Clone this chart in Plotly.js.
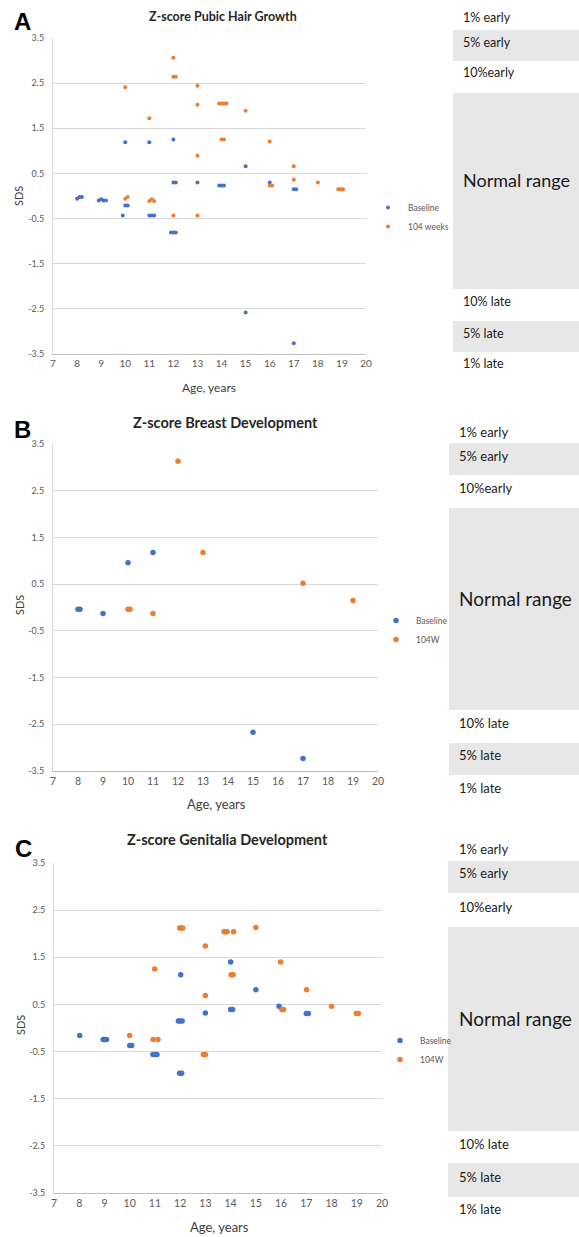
<!DOCTYPE html>
<html>
<head>
<meta charset="utf-8">
<script src="https://cdn.plot.ly/plotly-3.0.1.min.js"></script>
<style>html,body{margin:0;padding:0;background:#fff;}#chart{width:579px;height:1237px;}</style>
</head>
<body>
<div id="chart"></div>
<script>
// ---------------- DATA ----------------
const panelLetters = ['A', 'B', 'C'];
const panelTitles = ['Z-score Pubic Hair Growth', 'Z-score Breast Development', 'Z-score Genitalia Development'];
const seriesNamesA = ['Baseline', '104 weeks'];
const seriesNamesBC = ['Baseline', '104W'];
const xTicks = [7, 8, 9, 10, 11, 12, 13, 14, 15, 16, 17, 18, 19, 20];
const yTicks = [-3.5, -2.5, -1.5, -0.5, 0.5, 1.5, 2.5, 3.5];
const yTickText = ['-3.5', '-2.5', '-1.5', '-0.5', '0.5', '1.5', '2.5', '3.5'];
const bandLabels = ['1% early', '5% early', '10%early', 'Normal range', '10% late', '5% late', '1% late'];

// Panel A: Pubic hair
const pubicBaseAge = [8, 8.1, 8.2, 8.9, 9, 9.1, 9.2, 9.9, 10, 10.1, 10, 11, 11.1, 11.2, 11, 11.9, 12, 12.1, 12, 12.1, 12, 13, 13.9, 14, 14.1, 15, 15, 16, 17, 17.1, 17];
const pubicBaseSDS = [-0.06, -0.02, -0.02, -0.1, -0.07, -0.1, -0.1, -0.43, -0.21, -0.21, 1.19, -0.43, -0.43, -0.43, 1.19, -0.81, -0.81, -0.81, 0.30, 0.30, 1.25, 0.30, 0.23, 0.23, 0.23, 0.66, -2.58, 0.30, 0.15, 0.15, -3.26];
const pubic104Age = [10, 10, 10.1, 11, 11, 11.1, 11.2, 12, 12, 12.1, 12, 13, 13, 13, 13, 13.9, 14, 14.1, 14.2, 14, 14.1, 15, 16, 16, 16.1, 17, 17, 18, 18.85, 18.95, 19.05];
const pubic104SDS = [2.41, -0.06, -0.02, 1.72, -0.11, -0.07, -0.11, 3.06, 2.64, 2.64, -0.43, 2.44, 2.02, 0.89, -0.43, 2.05, 2.05, 2.05, 2.05, 1.25, 1.25, 1.89, 1.21, 0.23, 0.23, 0.66, 0.36, 0.30, 0.15, 0.15, 0.15];

// Panel B: Breast
const breastBaseAge = [8, 8.08, 9, 10, 11, 15, 17];
const breastBaseSDS = [-0.04, -0.04, -0.13, 0.96, 1.18, -2.67, -3.23];
const breast104Age = [10, 10.08, 11, 12, 13, 17, 19];
const breast104SDS = [-0.04, -0.04, -0.13, 3.13, 1.18, 0.52, 0.15];

// Panel C: Genitalia
const genBaseAge = [8.02, 8.95, 9.02, 9.08, 10.0, 10.08, 10.92, 11.0, 11.08, 11.93, 12.0, 12.08, 11.98, 12.06, 12.02, 13.0, 14.0, 14.0, 14.08, 15.0, 15.92, 17.0, 17.08];
const genBaseSDS = [-0.16, -0.245, -0.245, -0.245, -0.37, -0.37, -0.56, -0.56, -0.56, 0.15, 0.15, 0.15, -0.96, -0.96, 1.13, 0.32, 1.40, 0.39, 0.39, 0.81, 0.46, 0.31, 0.31];
const gen104Age = [10.0, 10.93, 11.12, 10.99, 11.98, 12.04, 12.1, 12.92, 13.0, 13.0, 13.0, 13.74, 13.8, 13.86, 14.12, 14.02, 14.1, 15.0, 15.98, 16.03, 16.1, 17.01, 18.0, 18.98, 19.06];
const gen104SDS = [-0.16, -0.245, -0.245, 1.25, 2.12, 2.12, 2.12, -0.56, -0.56, 1.74, 0.69, 2.04, 2.04, 2.04, 2.04, 1.13, 1.13, 2.13, 1.40, 0.39, 0.39, 0.81, 0.46, 0.31, 0.31];

// ---------------- STYLE / LAYOUT ----------------
const W = 579, H = 1237;
const px = v => v / W;
const py = v => 1 - v / H;
const BLUE = '#4472C4', ORANGE = '#ED7D31';
const FONT = 'Lato, "Open Sans", sans-serif';

const panels = [
  {base: [pubicBaseAge, pubicBaseSDS], w104: [pubic104Age, pubic104SDS], names: seriesNamesA, msize: 4,
   plot: {l: 53, r: 366, t: 38, b: 354}, title: {x: 223, y: 16, size: 12.5}, letter: {x: 22, y: 21},
   sds: {x: 18, y: 196}, age: {x: 209, y: 387}, ageSize: 12, bandSize: 12.5, normalSize: 18,
   legend: {x: 368, y: 193},
   bands: {left: 453, textX: 461, grey: [[30, 61], [93, 289], [321, 352]], text: [18, 43, 73, 180, 302, 333, 363]}},
  {base: [breastBaseAge, breastBaseSDS], w104: [breast104Age, breast104SDS], names: seriesNamesBC, msize: 5.5,
   plot: {l: 53, r: 378, t: 444, b: 771}, title: {x: 225, y: 422, size: 14.5}, letter: {x: 22, y: 430},
   sds: {x: 19, y: 605}, age: {x: 216, y: 804}, ageSize: 13, bandSize: 13, normalSize: 19,
   legend: {x: 376, y: 606},
   bands: {left: 449, textX: 457, grey: [[443, 475], [508, 710], [743, 775]], text: [432, 456, 488, 598, 723, 755, 788]}},
  {base: [genBaseAge, genBaseSDS], w104: [gen104Age, gen104SDS], names: seriesNamesBC, msize: 5.5,
   plot: {l: 54, r: 382, t: 863, b: 1193}, title: {x: 227, y: 839, size: 14.5}, letter: {x: 23, y: 848},
   sds: {x: 20, y: 1025}, age: {x: 219, y: 1227}, ageSize: 13, bandSize: 13, normalSize: 19,
   legend: {x: 380, y: 1026},
   bands: {left: 448, textX: 457, grey: [[861, 893], [927, 1131], [1163, 1197]], text: [849, 873, 907, 1018, 1144, 1177, 1209]}}
];

const traces = [];
const layout = {
  width: W, height: H,
  margin: {l: 0, r: 0, t: 0, b: 0},
  paper_bgcolor: '#ffffff', plot_bgcolor: '#ffffff',
  font: {family: FONT, color: '#595959'},
  showlegend: true,
  shapes: [], annotations: []
};

panels.forEach((p, i) => {
  const n = i === 0 ? '' : String(i + 1);
  const xa = 'x' + n, ya = 'y' + n;
  const lg = 'legend' + n;
  [[p.base, BLUE, p.names[0]], [p.w104, ORANGE, p.names[1]]].forEach(([d, col, name]) => {
    traces.push({
      type: 'scatter', mode: 'markers', x: d[0], y: d[1], name: name,
      xaxis: xa, yaxis: ya, legend: lg,
      marker: {color: col, size: p.msize, line: {width: 0}},
      hoverinfo: 'x+y+name'
    });
  });
  layout['xaxis' + n] = {
    domain: [px(p.plot.l), px(p.plot.r)], anchor: ya,
    range: [7, 20], tickvals: xTicks, ticks: '', showgrid: false, zeroline: false,
    showline: true, linecolor: '#bfbfbf', linewidth: 1,
    tickfont: {family: FONT, size: i === 0 ? 10 : 10.5, color: '#595959'},
    fixedrange: true
  };
  layout['yaxis' + n] = {
    domain: [py(p.plot.b), py(p.plot.t)], anchor: xa,
    range: [-3.5, 3.5], tickvals: yTicks, ticktext: yTickText, ticks: '',
    showgrid: true, gridcolor: '#d9d9d9', gridwidth: 1, zeroline: false,
    showline: true, linecolor: '#d9d9d9', linewidth: 1,
    tickfont: {family: FONT, size: 9, color: '#595959'},
    ticklabelstandoff: 6,
    fixedrange: true
  };
  layout[lg] = {
    x: px(p.legend.x), y: py(p.legend.y), xanchor: 'left', yanchor: 'top',
    bgcolor: 'rgba(0,0,0,0)', borderwidth: 0,
    font: {family: FONT, size: 8.5, color: '#595959'},
    itemwidth: 30, tracegroupgap: 0
  };
  // titles and labels
  layout.annotations.push({
    text: '<b>' + panelTitles[i] + '</b>', xref: 'paper', yref: 'paper',
    x: px(p.title.x), y: py(p.title.y), xanchor: 'center', yanchor: 'middle', showarrow: false,
    font: {family: FONT, size: p.title.size, color: '#262626'}
  });
  layout.annotations.push({
    text: '<b>' + panelLetters[i] + '</b>', xref: 'paper', yref: 'paper',
    x: px(p.letter.x), y: py(p.letter.y), xanchor: 'center', yanchor: 'middle', showarrow: false,
    font: {family: '"Liberation Sans", Arial, sans-serif', size: 24, color: '#000000'}
  });
  layout.annotations.push({
    text: 'SDS', xref: 'paper', yref: 'paper', textangle: -90,
    x: px(p.sds.x), y: py(p.sds.y), xanchor: 'center', yanchor: 'middle', showarrow: false,
    font: {family: FONT, size: 11, color: '#404040'}
  });
  layout.annotations.push({
    text: 'Age, years', xref: 'paper', yref: 'paper',
    x: px(p.age.x), y: py(p.age.y), xanchor: 'center', yanchor: 'middle', showarrow: false,
    font: {family: FONT, size: p.ageSize, color: '#404040'}
  });
  // right-side reference bands
  p.bands.grey.forEach(g => {
    layout.shapes.push({
      type: 'rect', xref: 'paper', yref: 'paper', layer: 'below',
      x0: px(p.bands.left), x1: 1, y0: py(g[1]), y1: py(g[0]),
      fillcolor: '#e7e7e7', line: {width: 0}
    });
  });
  bandLabels.forEach((lab, k) => {
    layout.annotations.push({
      text: lab, xref: 'paper', yref: 'paper',
      x: px(p.bands.textX), y: py(p.bands.text[k]), xanchor: 'left', yanchor: 'middle', showarrow: false,
      font: {family: FONT, size: k === 3 ? p.normalSize : p.bandSize, color: '#1a1a1a'}
    });
  });
});

Plotly.newPlot('chart', traces, layout, {displayModeBar: false, staticPlot: true});
</script>
</body>
</html>
